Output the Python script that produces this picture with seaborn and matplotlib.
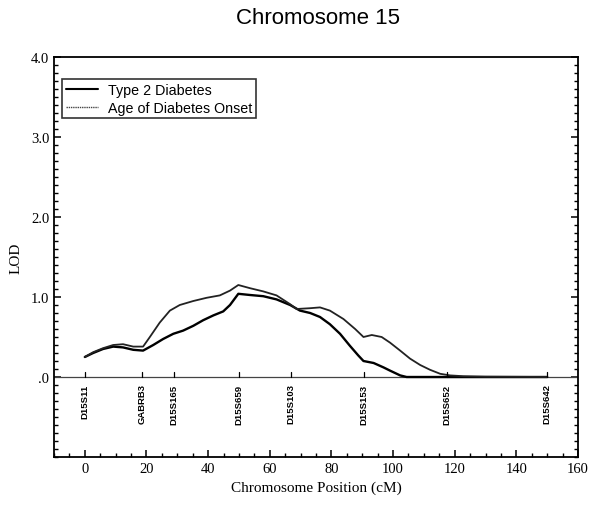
import matplotlib
matplotlib.use("Agg")
import matplotlib.pyplot as plt
from matplotlib.ticker import MultipleLocator, FixedLocator
from matplotlib.lines import Line2D
import seaborn as sns
import pandas as pd

# ---- data ----
t2d_pos = [0, 2.7, 5.9, 9.2, 12.4, 15.7, 18.9, 22.2, 25.4, 28.7, 31.9, 35.2, 38.4, 41.7, 44.9, 47.1,
           49.8, 53.6, 57.9, 62.2, 66.6, 69.8, 73.1, 76.3, 79.5, 82.8, 86, 88.7, 90.4, 93.7, 96.9,
           99, 102.3, 104.4, 110, 120, 150]
t2d_lod = [0.25, 0.30, 0.35, 0.38, 0.37, 0.34, 0.33, 0.40, 0.475, 0.54, 0.58, 0.64, 0.71, 0.77, 0.82, 0.90,
           1.04, 1.025, 1.01, 0.97, 0.90, 0.83, 0.80, 0.75, 0.66, 0.54, 0.39, 0.27, 0.20, 0.175, 0.12,
           0.08, 0.02, 0.0, 0.0, 0.0, 0.0]

onset_pos = [0, 2.7, 5.9, 9.2, 12.4, 15.7, 18.9, 21.1, 24.3, 27.6, 30.8, 35.2, 39.5, 43.8, 47.1, 49.8,
             53.6, 57.9, 62.2, 66.6, 68.7, 73.1, 76.3, 79.5, 83.9, 87.7, 90.4, 93.1, 96.3, 99,
             102.3, 105.5, 108.8, 112, 115.3, 118.5, 122.8, 130, 150]
onset_lod = [0.25, 0.31, 0.36, 0.40, 0.41, 0.38, 0.38, 0.50, 0.68, 0.83, 0.90, 0.95, 0.99, 1.02, 1.08, 1.15,
             1.11, 1.07, 1.02, 0.91, 0.85, 0.86, 0.87, 0.83, 0.725, 0.60, 0.50, 0.525, 0.50, 0.43,
             0.33, 0.23, 0.15, 0.09, 0.04, 0.02, 0.01, 0.004, 0.0]

marker_names = ["D15S11", "GABRB3", "D15S165", "D15S659", "D15S103", "D15S153", "D15S652", "D15S642"]
marker_pos = [0, 18.5, 29, 50, 67, 90.5, 117.5, 150]

series_names = ["Type 2 Diabetes", "Age of Diabetes Onset"]

df = pd.concat([
    pd.DataFrame({"pos": t2d_pos, "lod": t2d_lod, "trait": series_names[0]}),
    pd.DataFrame({"pos": onset_pos, "lod": onset_lod, "trait": series_names[1]}),
])

sns.set_style("white")
plt.rcParams.update({"text.color": "black", "axes.labelcolor": "black",
                     "xtick.color": "black", "ytick.color": "black"})
serif = ["Liberation Serif", "DejaVu Serif"]
sans = ["Liberation Sans", "DejaVu Sans"]

fig = plt.figure(figsize=(5.95, 5.06), dpi=100)
ax = fig.add_axes([54 / 595, 1 - 458 / 506, (578 - 54) / 595, (458 - 58) / 506])

sns.lineplot(data=df, x="pos", y="lod", hue="trait",
             palette={series_names[0]: "#000000", series_names[1]: "#222222"},
             size="trait", sizes={series_names[0]: 1.7, series_names[1]: 1.3},
             estimator=None, sort=True, ax=ax, legend=False)

# zero line
ax.axhline(0, color="#444444", lw=0.9, zorder=1)

# markers
for name, p in zip(marker_names, marker_pos):
    ax.plot([p, p], [0, 0.06], color="black", lw=0.9)
    ax.text(p, -0.08, name, rotation=90, ha="center", va="top",
            fontsize=6.8, fontweight="bold", family=sans, color="black")

ax.set_xlim(-10, 160)
ax.set_ylim(-1, 4)
ax.xaxis.set_major_locator(MultipleLocator(20))
ax.xaxis.set_minor_locator(MultipleLocator(5))
ax.yaxis.set_major_locator(FixedLocator([0, 1, 2, 3, 4]))
ax.yaxis.set_minor_locator(MultipleLocator(0.1))
ax.set_yticklabels([".0", "1.0", "2.0", "3.0", "4.0"])
ax.tick_params(axis="both", which="both", direction="in", color="black", labelcolor="black",
               left=True, right=True, bottom=True, top=False)
ax.tick_params(which="major", length=5, width=1.1, labelsize=10.5)
ax.tick_params(which="minor", length=3, width=1.0)
for lab in ax.get_xticklabels() + ax.get_yticklabels():
    lab.set_family(serif)

for s in ax.spines.values():
    s.set_color("black")
    s.set_linewidth(1.3)

ax.set_xlabel("Chromosome Position (cM)", fontsize=11, family=serif, labelpad=4, color="black")
ax.set_ylabel("LOD", fontsize=11, family=serif, labelpad=6, color="black")

fig.text(318 / 595, 1 - 19 / 506, "Chromosome 15", ha="center", va="center",
         fontsize=16, family=sans, color="black")

# legend
handles = [Line2D([], [], color="black", lw=1.5),
           Line2D([], [], color="#444444", lw=1.0, linestyle=(0, (1, 0.6)))]
leg = ax.legend(handles, series_names, loc="upper left",
                bbox_to_anchor=(8 / 524, 1 - 22 / 400), frameon=True, fancybox=False,
                prop={"family": sans, "size": 10.3}, handlelength=2.3, handletextpad=0.7,
                borderpad=0.25, labelspacing=0.28, borderaxespad=0)
leg.get_frame().set_edgecolor("black")
leg.get_frame().set_linewidth(1.2)
for t in leg.get_texts():
    t.set_color("black")

fig.savefig("out.png", dpi=100)
